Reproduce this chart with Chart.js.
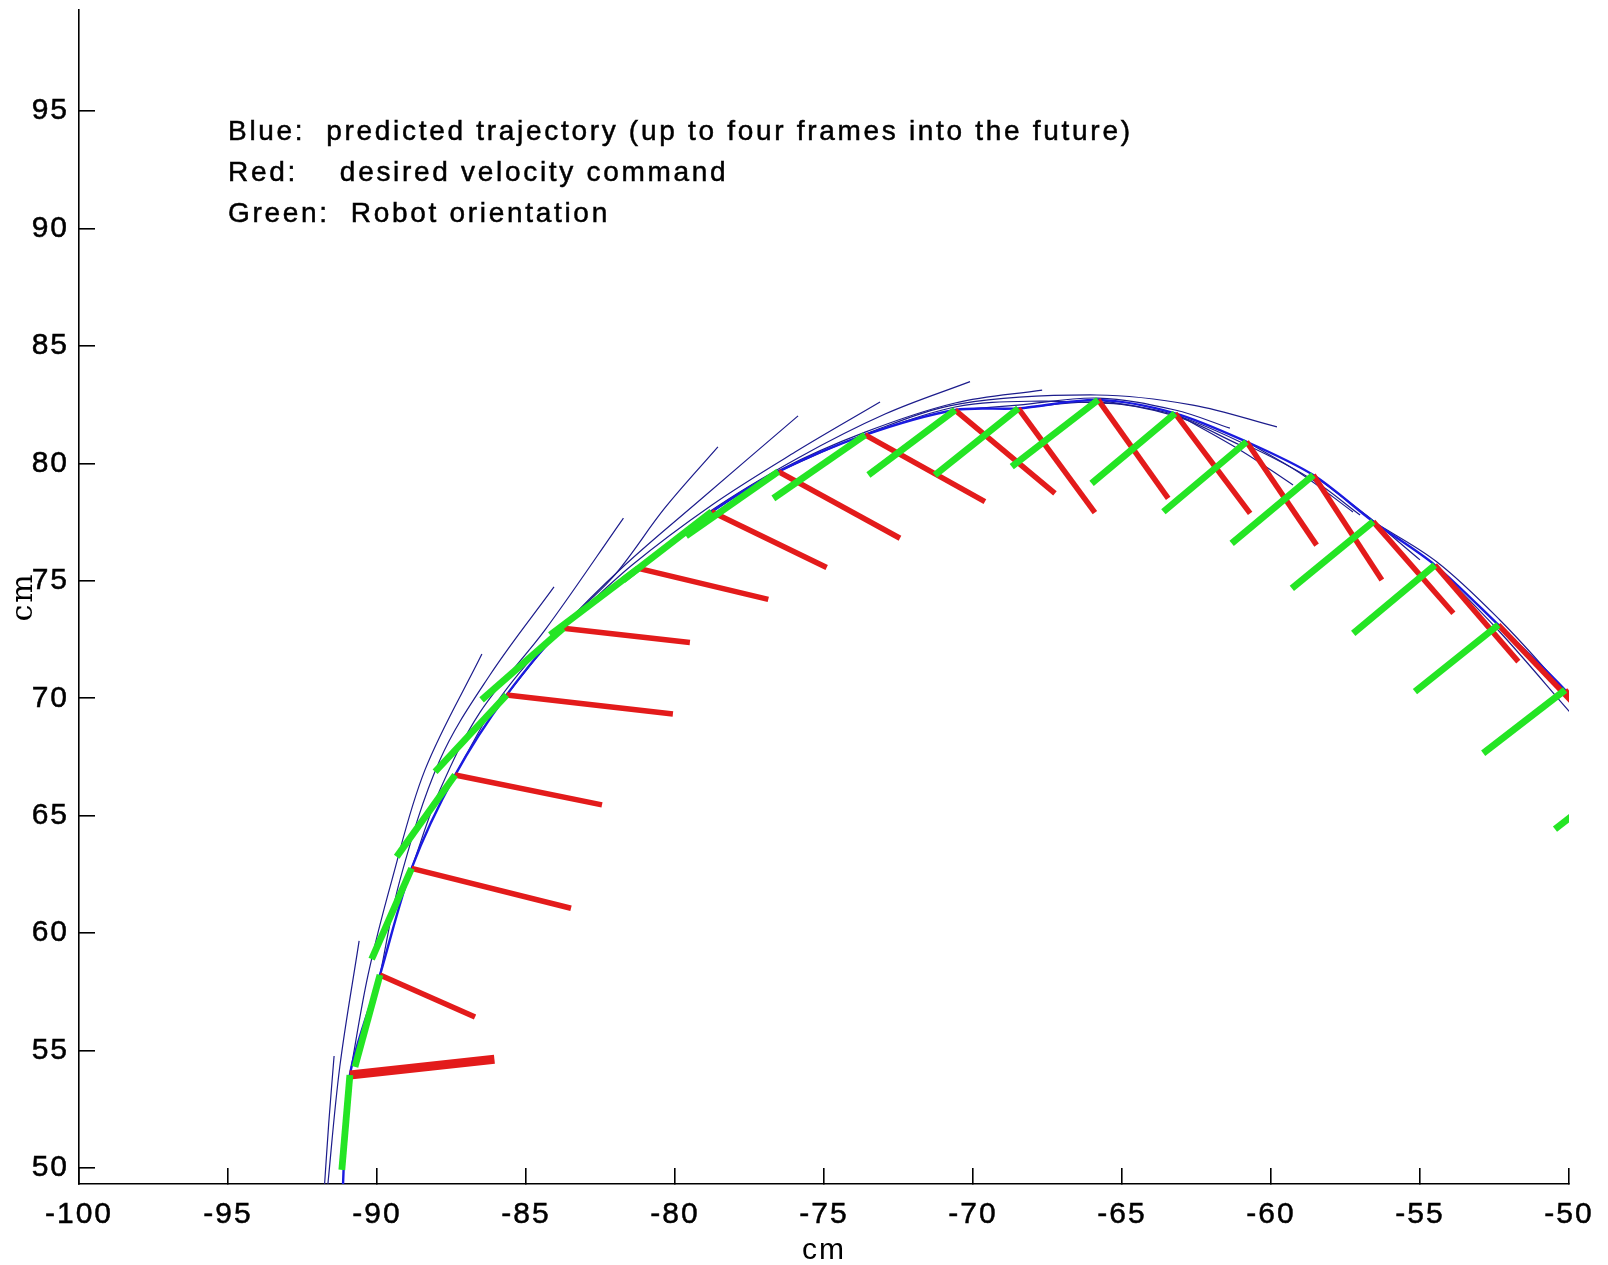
<!DOCTYPE html>
<html>
<head>
<meta charset="utf-8">
<script src="https://cdn.jsdelivr.net/npm/chart.js@4.4.1/dist/chart.umd.min.js"></script>
<style>
  html, body { margin: 0; padding: 0; background: #fff; }
  #wrap { width: 1608px; height: 1265px; }
</style>
</head>
<body>
<div id="wrap"><canvas id="plot"></canvas></div>
<script>
const xTicks = [-100, -95, -90, -85, -80, -75, -70, -65, -60, -55, -50];
const yTicks = [50, 55, 60, 65, 70, 75, 80, 85, 90, 95];

// robot position at each frame (cm)
const robotX = [-90.91, -89.90, -88.84, -87.38, -85.65, -83.75, -81.23, -78.77, -76.53, -73.62, -70.60,
                -68.48, -65.80, -63.22, -60.82, -58.58, -56.57, -54.50, -52.37, -50.13, -47.72];
const robotY = [53.96, 58.22, 62.76, 66.73, 70.14, 72.98, 75.53, 77.94, 79.65, 81.21, 82.27,
                82.34, 82.70, 82.13, 80.92, 79.50, 77.52, 75.67, 73.12, 70.35, 67.12];

// red: tip of the desired velocity command drawn from each robot position
const velX = [-86.06, -86.71, -83.49, -82.45, -80.07, -79.50, -76.87, -74.91, -72.45, -69.60, -67.25,
              -65.91, -63.45, -60.70, -58.47, -56.28, -53.88, -51.70, -49.90, -47.70, -45.30];
const velY = [54.63, 56.43, 61.06, 65.46, 69.33, 72.37, 74.21, 75.57, 76.81, 78.37, 78.72,
              77.90, 78.51, 77.87, 76.52, 75.03, 73.62, 71.56, 69.85, 66.80, 63.60];

// green: tail of the orientation line, which ends at the robot position
const headX = [-91.18, -90.74, -90.18, -89.34, -88.05, -86.49, -84.19, -81.74, -79.63, -76.70, -73.51,
               -71.28, -68.70, -66.02, -63.61, -61.32, -59.30, -57.24, -55.17, -52.88, -50.47];
const headY = [49.92, 54.31, 58.89, 63.25, 66.87, 69.93, 72.69, 75.03, 76.91, 78.51, 79.50,
               79.50, 79.86, 79.15, 77.94, 76.59, 74.68, 72.76, 70.28, 67.66, 64.43];

// path actually driven
const pathX = [-91.16, ...robotX.slice(0, 20), -48.40];
const pathY = [48.80, ...robotY.slice(0, 20), 67.60];

// blue: predicted trajectories, up to four frames ahead
const predX = [
  [-91.78, -91.62, -91.44],
  [-91.68, -91.25, -90.60],
  [-90.91, -90.30, -89.50, -88.39, -86.48],
  [-89.90, -89.23, -87.89, -86.21, -84.06],
  [-88.84, -87.89, -86.54, -84.36, -81.73],
  [-87.38, -85.97, -84.19, -82.11, -80.34, -78.56],
  [-85.65, -83.86, -81.68, -79.16, -75.87],
  [-83.75, -81.44, -78.76, -75.97, -73.12],
  [-81.23, -78.76, -75.87, -72.95, -70.10],
  [-78.77, -76.48, -73.62, -70.60, -67.68],
  [-76.53, -73.52, -70.44, -65.84, -62.62, -59.80],
  [-73.62, -70.60, -67.75, -65.07],
  [-70.60, -68.49, -65.81, -63.22, -61.38],
  [-68.48, -65.81, -63.22, -61.04],
  [-65.80, -63.22, -60.81, -58.59, -57.01],
  [-63.22, -61.04, -59.26],
  [-60.82, -59.03, -57.25],
  [-58.58, -56.68, -55.00],
  [-56.57, -54.43, -52.32, -50.30],
  [-54.50, -52.32, -49.97],
  [-52.37, -50.13, -48.62]
];
const predY = [
  [48.90, 51.90, 54.77],
  [48.90, 54.30, 59.67],
  [53.96, 58.22, 62.26, 66.95, 71.88],
  [58.22, 62.26, 67.37, 70.99, 74.74],
  [62.76, 66.09, 69.41, 72.91, 77.67],
  [66.73, 69.84, 72.57, 75.12, 78.10, 80.70],
  [70.14, 72.91, 75.67, 78.44, 82.02],
  [72.98, 75.67, 78.23, 80.48, 82.61],
  [75.53, 78.01, 80.23, 82.10, 83.48],
  [77.94, 79.72, 81.33, 82.57, 83.12],
  [79.65, 81.29, 82.53, 82.91, 82.48, 81.55],
  [81.21, 82.40, 82.65, 82.53],
  [82.27, 82.48, 82.78, 82.27, 81.50],
  [82.34, 82.61, 82.02, 80.78],
  [82.70, 82.06, 80.78, 79.29, 77.80],
  [82.13, 80.57, 79.08],
  [80.92, 79.59, 77.93],
  [79.50, 77.67, 75.89],
  [77.52, 75.80, 73.33, 70.56],
  [75.67, 72.82, 69.41],
  [73.12, 70.27, 68.22]
];

const notes = [
  "Blue:  predicted trajectory (up to four frames into the future)",
  "Red:    desired velocity command",
  "Green:  Robot orientation"
];
const noteAt = [-95, 93.77];

const RED = "#e31b1b";
const GREEN = "#24e524";
const BLUE = "#1a1ae0";
const NAVY = "#1c1c8c";

function line(xs, ys, color, width, tension) {
  return {
    data: xs.map((x, i) => ({ x: x, y: ys[i] })),
    showLine: true,
    borderColor: color,
    borderWidth: width,
    borderCapStyle: "butt",
    pointRadius: 0,
    tension: tension || 0,
    clip: 0,
  };
}

// first dataset ends up on top, so greens go first
const datasets = [];
headX.forEach((x, i) => {
  datasets.push(line([x, robotX[i]], [headY[i], robotY[i]], GREEN, 6.8));
});
velX.forEach((x, i) => {
  // the first command is drawn heavier in the original
  datasets.push(line([robotX[i], x], [robotY[i], velY[i]], RED, i === 0 ? 9 : 5.5));
});
datasets.push(line(pathX, pathY, BLUE, 2.4, 0.3));
predX.forEach((xs, i) => {
  datasets.push(line(xs, predY[i], NAVY, 1.2, 0.35));
});

// the source font is Helvetica with loose spacing
const spacing = {
  id: "spacing",
  beforeDraw(chart) { chart.ctx.letterSpacing = "2px"; }
};

const notesPlugin = {
  id: "notes",
  afterDatasetsDraw(chart) {
    const { ctx, scales } = chart;
    const left = scales.x.getPixelForValue(noteAt[0]);
    const base = scales.y.getPixelForValue(noteAt[1]);
    ctx.save();
    ctx.font = '28px "Liberation Sans", Arial, sans-serif';
    ctx.letterSpacing = "2.7px";
    ctx.fillStyle = "#000";
    ctx.strokeStyle = "#000";
    ctx.lineWidth = 0.5;
    ctx.textBaseline = "alphabetic";
    notes.forEach((t, i) => {
      ctx.strokeText(t, left, base + i * 41);
      ctx.fillText(t, left, base + i * 41);
    });
    ctx.restore();
  }
};

const tickFont = { family: "'Liberation Sans', Arial, sans-serif", size: 30 };
const noPad = (s) => { s.paddingLeft = 0; s.paddingRight = 0; s.paddingTop = 0; s.paddingBottom = 0; };

new Chart(document.getElementById("plot"), {
  type: "scatter",
  data: { datasets: datasets },
  plugins: [spacing, notesPlugin],
  options: {
    responsive: true,
    maintainAspectRatio: false,
    animation: false,
    events: [],
    layout: { padding: { top: 10, right: 39, bottom: 0, left: 0 }, autoPadding: false },
    elements: { line: { capBezierPoints: false }, point: { radius: 0 } },
    plugins: { legend: { display: false }, tooltip: { enabled: false } },
    scales: {
      x: {
        type: "linear",
        min: -100,
        max: -50,
        border: { display: true, color: "#000", width: 1.6 },
        grid: { drawOnChartArea: false, drawTicks: true, tickLength: -16, color: "#000", lineWidth: 1.6 },
        ticks: { color: "#000", font: tickFont, padding: 29, maxRotation: 0, autoSkip: false,
                 textStrokeColor: "#000", textStrokeWidth: 0.5 },
        afterBuildTicks: (s) => { s.ticks = xTicks.map((v) => ({ value: v })); },
        title: { display: true, text: "cm", color: "#000", font: { family: tickFont.family, size: 30, lineHeight: 0.95 }, padding: { top: 0, bottom: 0 } },
        afterFit: (s) => { s.height = 81; noPad(s); }
      },
      y: {
        type: "linear",
        min: 49.32,
        max: 99.3,
        border: { display: true, color: "#000", width: 1.6 },
        grid: { drawOnChartArea: false, drawTicks: true, tickLength: -16, color: "#000", lineWidth: 1.6 },
        ticks: { color: "#000", font: tickFont, padding: 26, autoSkip: false,
                 textStrokeColor: "#000", textStrokeWidth: 0.5 },
        afterBuildTicks: (s) => { s.ticks = yTicks.map((v) => ({ value: v })); },
        title: { display: true, text: "cm", color: "#000", font: { family: "DejaVu Serif", size: 30 }, padding: { top: 6, bottom: 0 } },
        afterFit: (s) => { s.width = 79; noPad(s); }
      }
    }
  }
});
</script>
</body>
</html>
